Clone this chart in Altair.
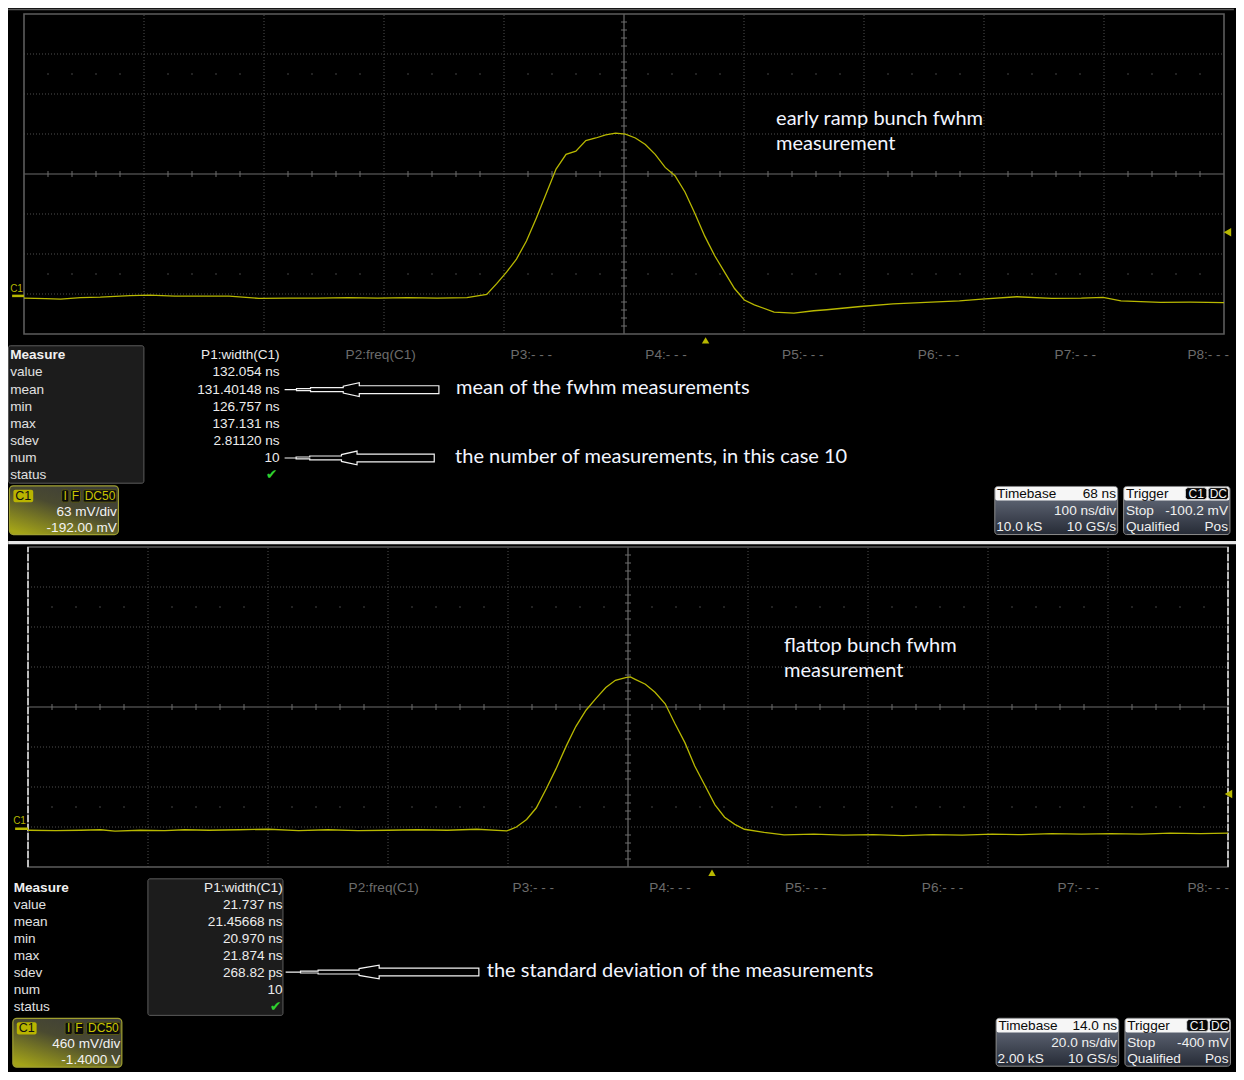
import altair as alt
import pandas as pd
import numpy as np

# ---------------- waveform samples ----------------
# early ramp bunch: time (ns, relative to trigger) and displayed amplitude (mV)
RAMP_T_NS = [-568, -550, -537.5, -521, -504.4, -479.7, -463.1, -442.5, -421.9, -397.1,
             -372.3, -347.5, -322.8, -298, -273.2, -248.4, -223.7, -198.9, -182.4, -174.1,
             -165.9, -157.6, -149.3, -141.1, -132.8, -124.6, -116.3, -108.1, -99.8, -91.5,
             -83.3, -75, -66.8, -58.5, -50.2, -42, -33.7, -25.5, -17.2, -9,
             -0.7, 7.6, 15.8, 24.1, 32.3, 40.6, 57.1, 73.6, 90.1, 100.9,
             129, 156.2, 183.5, 211.5, 233, 259.4, 288.3, 313.1, 331.3, 346.1,
             379.2, 403.9, 432]
RAMP_MV = [-3.6, -4.3, -5.1, -2.8, -2.0, 0.3, 1.1, -0.5, -0.5, -0.2,
           -3.9, -3.6, -3.6, -2.8, -3.6, -2.8, -3.6, -2.8, 2.3, 19.3,
           37.4, 58, 86.4, 122.4, 161.1, 199.7, 222.9, 228, 244.6, 248.7,
           253.8, 256.5, 254.9, 248.7, 238.4, 222.9, 202.4, 189.4, 163.7, 130.2,
           94.1, 63.2, 37.4, 11.6, -6.4, -14.1, -25.5, -27.1, -23.4, -21.8,
           -16.7, -12.5, -10.1, -7.9, -4.8, -1.3, -3.9, -3.6, -2.4, -7.9,
           -10.1, -9.8, -10.5]

# flattop bunch: time (ns) and displayed amplitude (mV)
FLAT_T_NS = [-114, -109.4, -105.2, -101.9, -99.5, -95.3, -91.2, -87.9, -83.8, -78.8,
             -73.9, -68.9, -64, -59, -54, -49.1, -44.1, -39.2, -34.2,
             -32.6, -30.9, -29.3, -27.6, -26, -24.3, -22.7, -21, -19.4, -17.7,
             -16.1, -14.4, -13.6, -12.8, -11.1, -9.5, -7.8, -6.2, -4.5, -2.9,
             -1.2, 0.5, 2.1, 3.8, 5.4, 8.7, 12,
             17, 21.9, 26.9, 31.8, 36.8, 41.7, 46.7, 51.6, 56.6, 61.6,
             66.5, 71.5, 76.4, 81.4, 86]
FLAT_MV = [-17.1, -22.7, -17.1, -11.5, -28.3, -17.1, -22.7, -11.5, -17.1, -11.5,
           -5.9, -22.7, -11.5, -22.7, -17.1, -11.5, -17.1, -5.9, -25.0,
           20, 106.6, 238.2, 463.1, 688.1, 950.1, 1175.1, 1362.9, 1493.4, 1624.9,
           1707, 1737.4, 1745.3, 1718.3, 1662.1, 1568.7, 1437.1, 1212.2, 987.2, 725.2,
           500.2, 275.3, 132.5, 50.4, -5.9, -43, -70,
           -62.1, -73.4, -67.8, -79, -67.8, -73.4, -62.1, -67.8, -56.5, -62.1,
           -56.5, -62.1, -50.9, -56.5, -50.9]

# ---------------- scope settings (from the info boxes) ----------------
VDIV_MV = [63, 460]
OFFSET_MV = [-192.0, -1400.0]
TDIV_NS = [100, 20]
DELAY_NS = [68, 14.0]
TRIG_LEVEL_MV = [-100.2, -400]

MEAS_ROWS = ["value", "mean", "min", "max", "sdev", "num", "status"]
RAMP_RESULTS = ["132.054 ns", "131.40148 ns", "126.757 ns", "137.131 ns", "2.81120 ns", "10"]
FLAT_RESULTS = ["21.737 ns", "21.45668 ns", "20.970 ns", "21.874 ns", "268.82 ps", "10"]
PARAM_LABELS = ["P1:width(C1)", "P2:freq(C1)", "P3:- - -", "P4:- - -", "P5:- - -",
                "P6:- - -", "P7:- - -", "P8:- - -"]
CH_TEXT = [["63 mV/div", "-192.00 mV"], ["460 mV/div", "-1.4000 V"]]
TB_TEXT = [["68 ns", "100 ns/div", "10.0 kS", "10 GS/s"],
           ["14.0 ns", "20.0 ns/div", "2.00 kS", "10 GS/s"]]
TRIG_TEXT = ["-100.2 mV", "-400 mV"]
NOTES_TOP = ["early ramp bunch fwhm", "measurement", "mean of the fwhm measurements",
             "the number of measurements, in this case 10"]
NOTES_BOT = ["flattop bunch fwhm", "measurement", "the standard deviation of the measurements"]

# ---------------- layout ----------------
W, H = 1228, 532
PXD = 121.1
FONT_UI = "Liberation Sans"
FONT_NOTE = "Lato"
UI_SIZE = 13.6
TRACE = "#b8b800"

LAYOUT = [
    dict(x0=23, yc=170, pdy=40.75,
         xdom=[-16 / 120, -16 / 120 + W / 120], ydom=[4 + 6 / 40 - H / 40, 4 + 6 / 40],
         lab_x=9.0, row_y0=354.7, val_x=281,
         p_x=[None, 383, 535, 671, 809, 946, 1084, 1218], check=(273, 476.7),
         meas_box=(7.3, 144, 345, 485), ch_box=(8.3, 118.3, 487.7, 537.3),
         tb_box=(1002.7, 1126.7, 488.3, 537.3), trig_box=(1132.7, 1240, 488.3, 537.3),
         c1=(9, 287), ground=(11, 23), trig_tri_y=339.5, lvl_tri_x=1237.5,
         notes=[(782, 114), (782, 139), (459, 388), (458, 458)],
         arrows=[(286, 389.7, 155.7), (286, 459.3, 151)],
         top_line=True, divider=False, dashed=False),
    dict(x0=27, yc=710, pdy=40.9,
         xdom=[-20 / 120, -20 / 120 + W / 120], ydom=[4 + 7 / 40 - H / 40, 4 + 7 / 40],
         lab_x=12.5, row_y0=894.7, val_x=284,
         p_x=[None, 386, 537, 675, 812, 950, 1087, 1218], check=(277, 1016.7),
         meas_box=(148, 284.3, 885.7, 1025.3), ch_box=(11.7, 121.7, 1028.3, 1078.3),
         tb_box=(1004, 1127.7, 1028.3, 1077.3), trig_box=(1134, 1240.5, 1028.3, 1077.3),
         c1=(12, 827), ground=(14, 27), trig_tri_y=879.5, lvl_tri_x=1238.5,
         notes=[(790, 648), (790, 673), (490, 980)],
         arrows=[(287, 981, 195)],
         top_line=False, divider=True, dashed=True),
]

ARROW_STEPS = [(0.0, 0), (0.077, 0), (0.077, 1), (0.168, 1), (0.168, 2), (0.38, 2),
               (0.38, 3.5), (0.484, 7), (0.484, 4), (1.0, 4)]


def make_panel(i, t_ns, v_mv, results, notes, L):
    x0, yc, pdy = L["x0"], L["yc"], L["pdy"]
    fx = lambda rx: (rx - x0) / PXD
    fy = lambda ry: (yc - ry) / pdy
    xs = alt.Scale(domain=L["xdom"], nice=False, zero=False)
    ys = alt.Scale(domain=L["ydom"], nice=False, zero=False)

    def XY(xf="x", yf="y"):
        return dict(x=alt.X(f"{xf}:Q", scale=xs, axis=None),
                    y=alt.Y(f"{yf}:Q", scale=ys, axis=None))

    layers = []

    def rects(rows, ref=True, **mk):
        if ref:
            rows = [(fx(a), fx(b), fy(c), fy(d)) for a, b, c, d in rows]
        df = pd.DataFrame(rows, columns=["x", "x2", "y", "y2"])
        layers.append(alt.Chart(df).mark_rect(clip=True, **mk)
                      .encode(x2="x2:Q", y2="y2:Q", **XY()))

    def rules(rows, ref=False, **mk):
        if ref:
            rows = [(fx(a), fx(b), fy(c), fy(d)) for a, b, c, d in rows]
        df = pd.DataFrame(rows, columns=["x", "x2", "y", "y2"])
        layers.append(alt.Chart(df).mark_rule(clip=True, **mk)
                      .encode(x2="x2:Q", y2="y2:Q", **XY()))

    def texts(rows, **mk):
        df = pd.DataFrame([dict(x=fx(a), y=fy(b), s=s) for a, b, s in rows])
        style = dict(baseline="middle", align="left", font=FONT_UI, fontSize=UI_SIZE,
                     color="#e4e4e4", clip=True)
        style.update(mk)
        layers.append(alt.Chart(df).mark_text(**style).encode(text="s:N", **XY()))

    def polyline(pts, **mk):
        df = pd.DataFrame([dict(x=fx(a), y=fy(b), o=k) for k, (a, b) in enumerate(pts)])
        layers.append(alt.Chart(df).mark_line(clip=True, **mk).encode(order="o:Q", **XY()))

    # ---- panel frame lines ----
    if L["top_line"]:
        rules([(7, 1244, 2.5, 2.5)], ref=True, color="#5a5a5a", strokeWidth=1.5)
    if L["divider"]:
        rects([(7, 1250, 540.3, 543.6)], color="#e6e6e6")

    # ---- graticule ----
    rules([(k, k, -4, 4) for k in range(1, 10) if k != 5] +
          [(0, 10, k, k) for k in range(-3, 4) if k != 0],
          color="#4e4e4e", strokeDash=[1, 2], strokeWidth=1)
    rules([(5, 5, -4, 4), (0, 10, 0, 0)], color="#6c6c6c", strokeWidth=1.2)
    rules([(0.2 * k, 0.2 * k, -0.075, 0.075) for k in range(1, 50) if k % 5] +
          [(4.975, 5.025, 0.2 * k, 0.2 * k) for k in range(-19, 20) if k % 5],
          color="#6c6c6c", strokeWidth=1)
    dots = pd.DataFrame([dict(x=0.2 * k, y=s) for k in range(1, 50) if k % 5 for s in (2.5, -2.5)])
    layers.append(alt.Chart(dots).mark_square(size=1.5, color="#707070", opacity=1, clip=True)
                  .encode(**XY()))
    rects([(0, 10, -4, 4)], ref=False, fillOpacity=0, stroke="#5c5c5c", strokeWidth=1.6)
    if L["dashed"]:
        rules([(0, 0, -4, 4), (10, 10, -4, 4)], color="#bcbcbc", strokeDash=[7, 2], strokeWidth=2)

    # ---- waveform ----
    wave = pd.DataFrame({"t": t_ns, "v": v_mv})
    layers.append(
        alt.Chart(wave)
        .transform_calculate(xd=f"(datum.t + {DELAY_NS[i]}) / {TDIV_NS[i]} + 5",
                             yd=f"(datum.v + {OFFSET_MV[i]}) / {VDIV_MV[i]}")
        .mark_line(color=TRACE, strokeWidth=1.3, clip=True)
        .encode(**XY("xd", "yd"))
    )

    # ground marker + C1 tag
    g = pd.DataFrame({"v": [0.0]})
    layers.append(
        alt.Chart(g)
        .transform_calculate(yd=f"(datum.v + {OFFSET_MV[i]}) / {VDIV_MV[i]}",
                             xa=f"{fx(L['ground'][0])}", xb=f"{fx(L['ground'][1])}")
        .mark_rule(color=TRACE, strokeWidth=2.5, clip=True)
        .encode(x2="xb:Q", **XY("xa", "yd"))
    )
    texts([(L["c1"][0], L["c1"][1], "C1")], fontSize=10, color="#b4b400")

    # trigger time marker (t = 0) and trigger level marker (channel is inverted)
    tt = pd.DataFrame({"t": [0.0]})
    layers.append(
        alt.Chart(tt)
        .transform_calculate(xd=f"(datum.t + {DELAY_NS[i]}) / {TDIV_NS[i]} + 5",
                             yd=f"{fy(L['trig_tri_y'])}")
        .mark_point(shape="triangle-up", filled=True, size=55, color=TRACE, opacity=1, clip=True)
        .encode(**XY("xd", "yd"))
    )
    tl = pd.DataFrame({"lvl": [TRIG_LEVEL_MV[i]]})
    layers.append(
        alt.Chart(tl)
        .transform_calculate(yd=f"(-datum.lvl + {OFFSET_MV[i]}) / {VDIV_MV[i]}",
                             xd=f"{fx(L['lvl_tri_x'])}")
        .mark_point(shape="triangle-left", filled=True, size=75, color=TRACE, opacity=1, clip=True)
        .encode(**XY("xd", "yd"))
    )

    # ---- measurement table ----
    mb = L["meas_box"]
    rects([mb], color="#1c1c1c", stroke="#5c5c5c", strokeWidth=1, cornerRadius=2)
    ry = [L["row_y0"] + 17.43 * k for k in range(8)]
    texts([(L["lab_x"], ry[0], "Measure")], fontWeight="bold", color="#f0f0f0")
    texts([(L["lab_x"], ry[k + 1], MEAS_ROWS[k]) for k in range(7)], color="#e0e0e0")
    texts([(L["val_x"], ry[0], PARAM_LABELS[0])] +
          [(L["val_x"], ry[k + 1], results[k]) for k in range(6)],
          align="right", color="#ececec")
    texts([(L["p_x"][k], ry[0], PARAM_LABELS[k]) for k in range(1, 8)],
          align="center", color="#6c6c6c")
    texts([(L["check"][0], L["check"][1], "\u2714")], align="center", font="DejaVu Sans",
          fontSize=14, color="#2fd02f")

    # ---- channel box ----
    x1, x2, y1, y2 = L["ch_box"]
    rects([(x1, x2, y1, y2)], cornerRadius=4, stroke="#a0a030", strokeWidth=1.2,
          fill=alt.Gradient(gradient="linear",
                            stops=[alt.GradientStop(color="#3c3c3a", offset=0),
                                   alt.GradientStop(color="#4a4a30", offset=0.45),
                                   alt.GradientStop(color="#a4a418", offset=1)],
                            x1=0.85, y1=0, x2=0.15, y2=1))
    rects([(x1 + 4, x1 + 24, y1 + 4, y1 + 16.6)], color="#b9b400", cornerRadius=2)
    rects([(x1 + 52.7, x1 + 60, y1 + 4, y1 + 16.6), (x1 + 61.7, x1 + 71.7, y1 + 4, y1 + 16.6),
           (x1 + 74.4, x1 + 108.4, y1 + 4, y1 + 16.6)], color="#0c0c0c", stroke="#5a5a14",
          strokeWidth=1, cornerRadius=2)
    texts([(x1 + 14, y1 + 10.4, "C1")], align="center", fontSize=12.5, color="#101010")
    texts([(x1 + 56.3, y1 + 10.4, "I"), (x1 + 66.7, y1 + 10.4, "F"),
           (x1 + 91.4, y1 + 10.4, "DC50")], align="center", fontSize=12, color="#c8c400")
    texts([(x2 - 1.6, y1 + 26.3, CH_TEXT[i][0]), (x2 - 1.6, y1 + 43, CH_TEXT[i][1])],
          align="right", color="#f2f2f2")

    # ---- timebase / trigger boxes ----
    slate = alt.Gradient(gradient="linear",
                         stops=[alt.GradientStop(color="#6e7585", offset=0),
                                alt.GradientStop(color="#262b36", offset=1)],
                         x1=0, y1=0, x2=0, y2=1)
    for bx in (L["tb_box"], L["trig_box"]):
        a, b, c, d = bx
        rects([(a, b, c, d)], fill=slate, stroke="#8c8c8c", strokeWidth=1, cornerRadius=3)
        rects([(a + 0.5, b - 0.5, c + 0.5, c + 14.4)], color="#f6f6f6", cornerRadius=2)
    a, b, c, d = L["tb_box"]
    texts([(a + 2.3, c + 7.6, "Timebase")], color="#0a0a0a")
    texts([(b - 1.7, c + 7.6, TB_TEXT[i][0])], align="right", color="#0a0a0a")
    texts([(b - 1.7, c + 25, TB_TEXT[i][1]), (b - 1.7, c + 41.7, TB_TEXT[i][3])],
          align="right", color="#f0f0f0")
    texts([(a + 1.5, c + 41.7, TB_TEXT[i][2])], color="#f0f0f0")
    a, b, c, d = L["trig_box"]
    rects([(a + 62.3, a + 84, c + 1.2, c + 13.4), (a + 85.3, a + 105.8, c + 1.2, c + 13.4)],
          color="#050505", stroke="#dcdcdc", strokeWidth=1, cornerRadius=3)
    texts([(a + 73.2, c + 7.6, "C1"), (a + 95.6, c + 7.6, "DC")], align="center",
          fontSize=12, color="#f4f4f4")
    texts([(a + 2.3, c + 7.6, "Trigger")], color="#0a0a0a")
    texts([(a + 2.3, c + 25, "Stop"), (a + 2.3, c + 41.7, "Qualified")], color="#f0f0f0")
    texts([(b - 2, c + 25, TRIG_TEXT[i]), (b - 2, c + 41.7, "Pos")], align="right",
          color="#f0f0f0")

    # ---- hand-drawn annotations ----
    for (tx, ty, ln) in L["arrows"]:
        up = [(tx + f * ln, ty - h) for f, h in ARROW_STEPS]
        lo = [(tx + f * ln, ty + h) for f, h in reversed(ARROW_STEPS)]
        polyline(up + lo, color="#f4f4f4", strokeWidth=1.2)
    texts([(px, py, s) for (px, py), s in zip(L["notes"], notes)],
          font=FONT_NOTE, fontSize=20, color="#f2f5ff")

    return alt.layer(*layers).properties(width=W, height=H)


top = make_panel(0, RAMP_T_NS, RAMP_MV, RAMP_RESULTS, NOTES_TOP, LAYOUT[0])
bottom = make_panel(1, FLAT_T_NS, FLAT_MV, FLAT_RESULTS, NOTES_BOT, LAYOUT[1])

chart = (
    alt.vconcat(top, bottom, spacing=0)
    .properties(background="black", padding=0)
    .configure_view(strokeWidth=0)
)

chart.save("out.html", embed_options={"renderer": "svg", "actions": False})
